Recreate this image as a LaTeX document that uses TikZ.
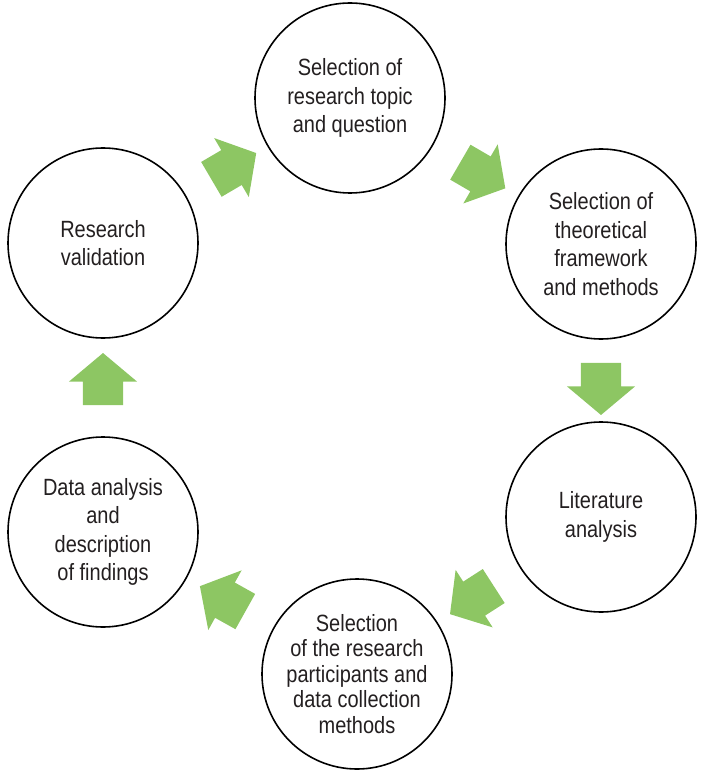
\documentclass[tikz,border=0pt]{standalone}
\usepackage{fontspec}
\setmainfont{Liberation Sans}[FakeStretch=0.85]
\usepackage{xcolor}
\usetikzlibrary{shapes.arrows,calc}

\definecolor{leafgreen}{RGB}{141,198,99}
\definecolor{inkgray}{RGB}{35,31,32}

\begin{document}
\begin{tikzpicture}[
    x=1pt, y=-1pt,
    every node/.style={font=\fontsize{23.5}{28.5}\selectfont, text=inkgray},
    stagecircle/.style={
      circle, draw=black, line width=1.6pt,
      minimum size=190pt, inner sep=0pt, align=center
    },
    cyclearr/.style={
      single arrow, fill=leafgreen, draw=none,
      minimum height=52pt, inner xsep=0pt, inner ysep=20pt,
      single arrow head extend=14pt, single arrow head indent=0pt,
      single arrow tip angle=100, sloped, allow upside down
    }
  ]
    \useasboundingbox (0,0) rectangle (701,775);

    % Stages of the cycle
    \node[stagecircle] (topic) at (350,98) {Selection of\\research topic\\and question};
    \node[stagecircle] (frame) at (601,244) {Selection of\\theoretical\\framework\\and methods};
    \node[stagecircle] (lit) at (601,517) {Literature\\analysis};
    \node[stagecircle, font=\fontsize{23.5}{25.5}\selectfont] (part) at (357,674)
      {Selection\\of the research\\participants and\\data collection\\methods};
    \node[stagecircle] (data) at (103,532) {Data analysis\\and\\description\\of findings};
    \node[stagecircle] (valid) at (103,243) {Research\\validation};

    % Cycle arrows
    \path (valid) -- node[cyclearr] (a1) {} (topic);
    \path (topic) -- node[cyclearr] (a2) {} (frame);
    \path (frame) -- node[cyclearr] (a3) {} (lit);
    \path (lit) -- node[cyclearr] (a4) {} (part);
    \path (part) -- node[cyclearr] (a5) {} (data);
    \path (data) -- node[cyclearr] (a6) {} (valid);

  \end{tikzpicture}
\end{document}
